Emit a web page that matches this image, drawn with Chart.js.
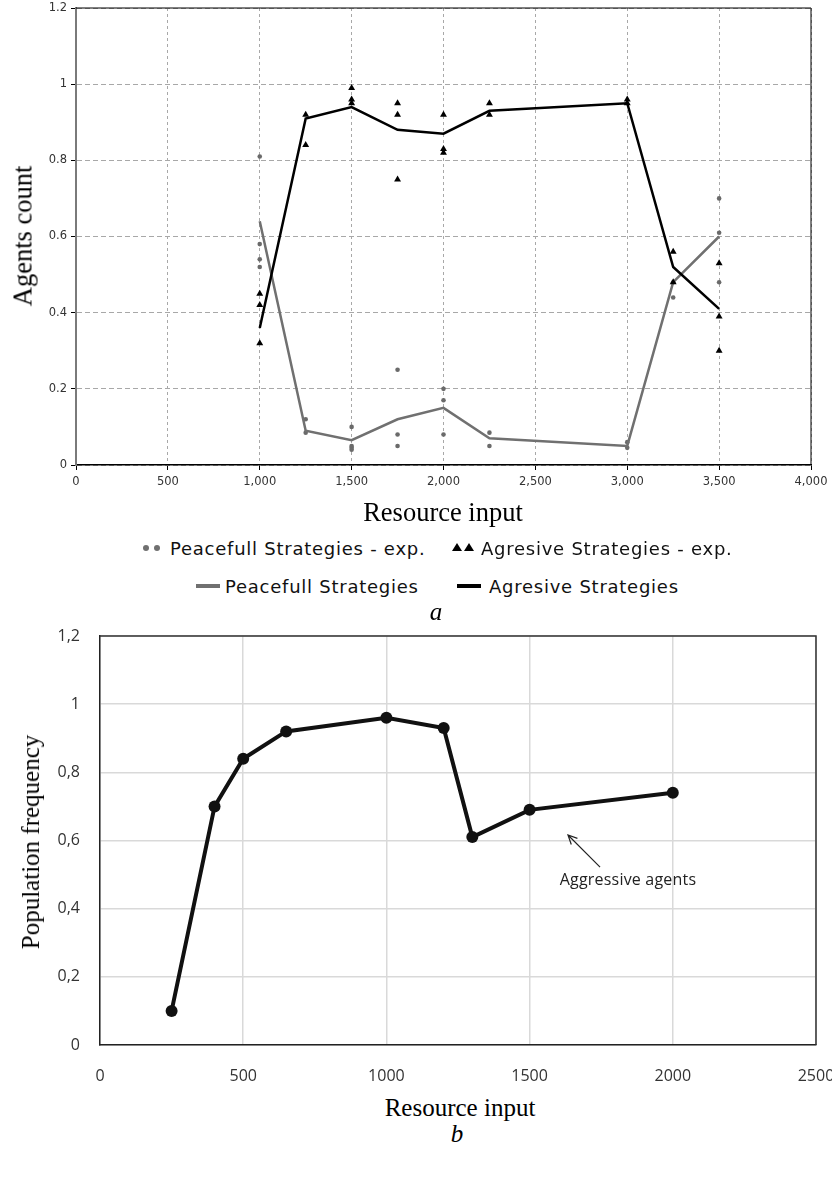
<!DOCTYPE html>
<html>
<head>
<meta charset="utf-8">
<script src="https://cdn.jsdelivr.net/npm/chart.js@4"></script>
<style>
  body { margin: 0; background: #fff; width: 832px; height: 1180px; position: relative; overflow: hidden; }
  canvas { position: absolute; left: 0; }
  .t { position: absolute; white-space: nowrap; color: #000; }
  .serif { font-family: "Liberation Serif", "Times New Roman", serif; font-size: 25px; }
  .big { font-size: 26.5px; }
  .rot { transform: translate(-50%, -50%) rotate(-90deg); }
  .ctr { transform: translate(-50%, -50%); }
  .leg { font-family: "DejaVu Sans", sans-serif; font-size: 18px; letter-spacing: 0.75px; color: #111; transform: translateY(-50%); }
  .sw { position: absolute; }
</style>
</head>
<body>
<canvas id="chartA" width="832" height="500" style="top:0"></canvas>
<canvas id="chartB" width="832" height="470" style="top:620px"></canvas>

<div class="t serif big rot" style="left:23px; top:236px">Agents count</div>
<div class="t serif big ctr" style="left:443px; top:512px">Resource input</div>

<!-- legend of chart a -->
<span class="sw" style="left:143px; top:545px; width:6px; height:6px; border-radius:50%; background:#707070"></span>
<span class="sw" style="left:154px; top:545px; width:6px; height:6px; border-radius:50%; background:#707070"></span>
<div class="t leg" style="left:170px; top:548px">Peacefull Strategies - exp.</div>
<span class="sw" style="left:452px; top:543px; width:0; height:0; border-left:5px solid transparent; border-right:5px solid transparent; border-bottom:8px solid #000"></span>
<span class="sw" style="left:464px; top:543px; width:0; height:0; border-left:5px solid transparent; border-right:5px solid transparent; border-bottom:8px solid #000"></span>
<div class="t leg" style="left:481px; top:548px">Agresive Strategies - exp.</div>
<span class="sw" style="left:196px; top:584px; width:24px; height:4px; background:#707070"></span>
<div class="t leg" style="left:225px; top:586px">Peacefull Strategies</div>
<span class="sw" style="left:457px; top:584px; width:24px; height:4px; background:#000"></span>
<div class="t leg" style="left:489px; top:586px">Agresive Strategies</div>
<div class="t serif ctr" style="left:436px; top:612px; font-style:italic">a</div>

<div class="t serif rot" style="left:31px; top:842px">Population frequency</div>
<div class="t serif ctr" style="left:460px; top:1108px">Resource input</div>
<div class="t serif ctr" style="left:457px; top:1134px; font-style:italic">b</div>
<div class="t ctr" style="left:628px; top:879px; font-family:'Open Sans', sans-serif; font-size:16px; letter-spacing:0.2px; color:#222">Aggressive agents</div>

<script>
// ---- chart a: agents count vs resource input ----
const resourceA = [1000, 1250, 1500, 1750, 2000, 2250, 3000, 3250, 3500];
const peacefulLine = [0.64, 0.09, 0.065, 0.12, 0.15, 0.07, 0.05, 0.48, 0.60];
const aggressiveLine = [0.36, 0.91, 0.94, 0.88, 0.87, 0.93, 0.95, 0.52, 0.41];
// experimental runs, one list per resource value
const peacefulExp = [
  [0.81, 0.58, 0.54, 0.52],
  [0.12, 0.085],
  [0.10, 0.05, 0.045, 0.04],
  [0.25, 0.08, 0.05],
  [0.20, 0.17, 0.08],
  [0.085, 0.05],
  [0.06, 0.045],
  [0.48, 0.44],
  [0.70, 0.61, 0.48]
];
const aggressiveExp = [
  [0.45, 0.42, 0.32],
  [0.92, 0.84],
  [0.99, 0.96, 0.95],
  [0.95, 0.92, 0.75],
  [0.92, 0.83, 0.82],
  [0.95, 0.92],
  [0.96, 0.95],
  [0.56, 0.48],
  [0.53, 0.39, 0.30]
];

// ---- chart b: population frequency of aggressive agents ----
const resourceB = [250, 400, 500, 650, 1000, 1200, 1300, 1500, 2000];
const aggressiveFreq = [0.10, 0.70, 0.84, 0.92, 0.96, 0.93, 0.61, 0.69, 0.74];
// arrow of the "Aggressive agents" note, in data units: tail then tip
const noteArrow = [[1746, 0.522], [1634, 0.616]];

function pairs(xs, ys) {
  return xs.map((x, i) => ({ x: x, y: ys[i] }));
}
function expPoints(groups) {
  const out = [];
  groups.forEach((g, i) => g.forEach(v => out.push({ x: resourceA[i], y: v })));
  return out;
}
// no extra room for overhanging tick labels, the layout padding decides
function noOverhang(s) {
  s.paddingLeft = 0;
  s.paddingRight = 0;
  s.paddingTop = 0;
  s.paddingBottom = 0;
}

// draws the plot frame (top and right edges)
const frame = {
  id: 'frame',
  beforeDatasetsDraw(chart, args, opts) {
    const a = chart.chartArea;
    const ctx = chart.ctx;
    ctx.save();
    ctx.strokeStyle = opts.color;
    ctx.lineWidth = opts.width;
    ctx.beginPath();
    ctx.moveTo(a.left, a.top);
    ctx.lineTo(a.right, a.top);
    ctx.lineTo(a.right, a.bottom);
    ctx.stroke();
    ctx.restore();
  }
};

const fontA = { family: 'DejaVu Sans', size: 11.5 };

new Chart(document.getElementById('chartA'), {
  type: 'scatter',
  data: {
    datasets: [
      {
        label: 'Peacefull Strategies',
        type: 'line',
        data: pairs(resourceA, peacefulLine),
        borderColor: '#707070',
        borderWidth: 2.5,
        pointRadius: 0,
        order: 2
      },
      {
        label: 'Agresive Strategies',
        type: 'line',
        data: pairs(resourceA, aggressiveLine),
        borderColor: '#000',
        borderWidth: 2.5,
        pointRadius: 0,
        order: 1
      },
      {
        label: 'Peacefull Strategies - exp.',
        data: expPoints(peacefulExp),
        pointStyle: 'circle',
        pointRadius: 2.3,
        backgroundColor: '#6a6a6a',
        borderWidth: 0,
        order: 3
      },
      {
        label: 'Agresive Strategies - exp.',
        data: expPoints(aggressiveExp),
        pointStyle: 'triangle',
        pointRadius: 4,
        backgroundColor: '#000',
        borderColor: '#000',
        borderWidth: 0,
        order: 0
      }
    ]
  },
  options: {
    responsive: false,
    animation: false,
    layout: { padding: { top: 8, right: 21, left: 0, bottom: 0 } },
    plugins: {
      legend: { display: false },
      tooltip: { enabled: false },
      frame: { color: '#000', width: 1 }
    },
    scales: {
      x: {
        type: 'linear',
        min: 0,
        max: 4000,
        ticks: {
          stepSize: 500,
          padding: 5,
          color: '#333',
          font: fontA,
          callback: v => v.toLocaleString('en-US')
        },
        grid: { color: '#a8a8a8', lineWidth: 1, tickLength: 5, tickColor: '#000' },
        border: { color: '#000', width: 1.5, dash: [3, 3] },
        afterFit: s => { noOverhang(s); s.height = 35; }
      },
      y: {
        min: 0,
        max: 1.2,
        ticks: {
          stepSize: 0.2,
          padding: 4,
          color: '#333',
          font: fontA,
          callback: v => String(+v.toFixed(1))
        },
        grid: { color: '#a8a8a8', lineWidth: 1, tickLength: 5, tickColor: '#000' },
        border: { color: '#7a7a7a', width: 2, dash: [5, 3] },
        afterFit: s => { noOverhang(s); s.width = 76; }
      }
    }
  },
  plugins: [frame]
});

// draws the annotation arrow through the scales
const arrow = {
  id: 'arrow',
  afterDatasetsDraw(chart) {
    const xs = chart.scales.x, ys = chart.scales.y;
    const x0 = xs.getPixelForValue(noteArrow[0][0]), y0 = ys.getPixelForValue(noteArrow[0][1]);
    const x1 = xs.getPixelForValue(noteArrow[1][0]), y1 = ys.getPixelForValue(noteArrow[1][1]);
    const ang = Math.atan2(y0 - y1, x0 - x1);
    const ctx = chart.ctx;
    ctx.save();
    ctx.strokeStyle = '#222';
    ctx.lineWidth = 1.2;
    ctx.beginPath();
    ctx.moveTo(x0, y0);
    ctx.lineTo(x1, y1);
    ctx.moveTo(x1 + 10 * Math.cos(ang - 0.45), y1 + 10 * Math.sin(ang - 0.45));
    ctx.lineTo(x1, y1);
    ctx.lineTo(x1 + 10 * Math.cos(ang + 0.45), y1 + 10 * Math.sin(ang + 0.45));
    ctx.stroke();
    ctx.restore();
  }
};

const fontB = { family: 'Open Sans', size: 16 };

new Chart(document.getElementById('chartB'), {
  type: 'line',
  data: {
    datasets: [{
      label: 'Aggressive agents',
      data: pairs(resourceB, aggressiveFreq),
      borderColor: '#111',
      backgroundColor: '#111',
      borderWidth: 4,
      pointRadius: 6,
      pointBorderWidth: 0,
      tension: 0
    }]
  },
  options: {
    responsive: false,
    animation: false,
    layout: { padding: { top: 16, right: 16, left: 0, bottom: 0 } },
    plugins: {
      legend: { display: false },
      tooltip: { enabled: false },
      frame: { color: '#333', width: 1.5 }
    },
    scales: {
      x: {
        type: 'linear',
        min: 0,
        max: 2500,
        ticks: { stepSize: 500, padding: 22, color: '#333', font: fontB, callback: v => String(v) },
        grid: { color: '#d9d9d9', lineWidth: 1.5, drawTicks: false },
        border: { color: '#222', width: 1.5 },
        afterFit: s => { noOverhang(s); s.height = 45; }
      },
      y: {
        min: 0,
        max: 1.2,
        ticks: {
          stepSize: 0.2,
          padding: 20,
          color: '#333',
          font: fontB,
          callback: v => String(+v.toFixed(1)).replace('.', ',')
        },
        grid: { color: '#d9d9d9', lineWidth: 1.5, drawTicks: false },
        border: { color: '#222', width: 1.5 },
        afterFit: s => { noOverhang(s); s.width = 100; }
      }
    }
  },
  plugins: [frame, arrow]
});
</script>
</body>
</html>
